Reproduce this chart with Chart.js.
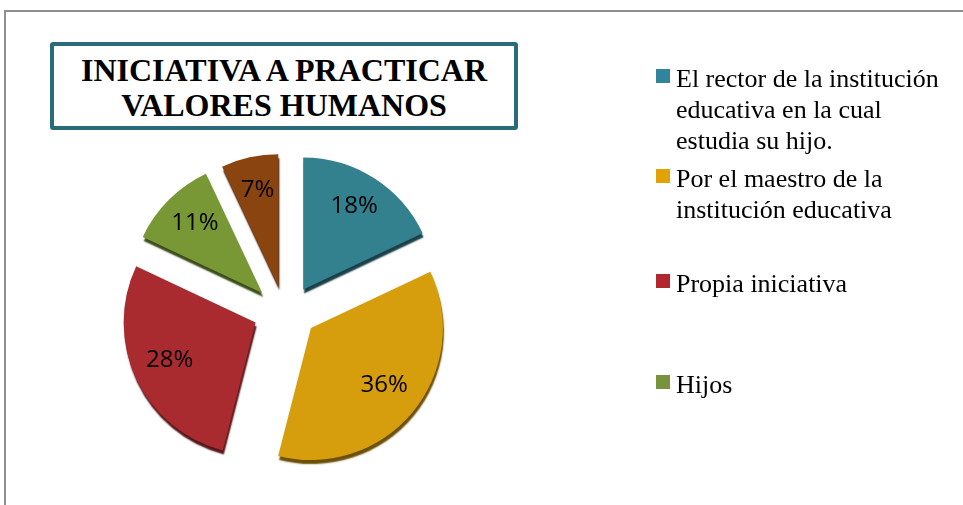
<!DOCTYPE html>
<html lang="es">
<head>
<meta charset="utf-8">
<title>Iniciativa a practicar valores humanos</title>
<script src="https://cdn.jsdelivr.net/npm/chart.js@4/dist/chart.umd.min.js"></script>
<style>
    html, body { margin: 0; padding: 0; background: #fff; }
    body { width: 963px; height: 505px; position: relative; overflow: hidden; }
    #marco {
        position: absolute; left: 4px; top: 10px; width: 1000px; height: 600px;
        border-left: 2px solid #8f8f8f; border-top: 2px solid #8f8f8f;
    }
    #grafico { position: absolute; left: 0; top: 0; }
    #titulo {
        position: absolute; left: 50px; top: 42px; width: 460px; height: 73px;
        border: 4px solid #2a6b7a; border-radius: 3px; padding-top: 7px;
        font: bold 32px/35px "Liberation Serif", "Times New Roman", serif;
        text-align: center; color: #000; background: #fff;
    }
    #leyenda { position: absolute; left: 0; top: 0; }
    .item {
        position: absolute; left: 676px; width: 278px;
        font: 26px/31px "Liberation Serif", "Times New Roman", serif; color: #000;
    }
    .item span {
        position: absolute; left: -20px; top: 6px; width: 14px; height: 14px;
    }
</style>
</head>
<body>
<div id="marco"></div>
<canvas id="grafico" width="963" height="505"></canvas>
<div id="titulo">INICIATIVA A PRACTICAR<br>VALORES HUMANOS</div>
<div id="leyenda"></div>

<script>
// datos
const categorias = [
    'El rector de la institución educativa en la cual estudia su hijo.',
    'Por el maestro de la institución educativa',
    'Propia iniciativa',
    'Hijos',
    'Otros'
];
const porcentajes = [18, 36, 28, 11, 7];
const enLeyenda = [true, true, true, true, false];

// estilos
const coloresPorcion = ['#33808f', '#d69e0c', '#a92b30', '#789836', '#8a4410'];
const coloresLeyenda = ['#31849b', '#e2a200', '#b1272e', '#77933c', '#8a4410'];
const leyendaTop = [63, 163, 268, 369];   // top de cada entrada
const SEP_X = 33;   // separacion de las porciones
const SEP_Y = 26;

function oscurecer(hex, f) {
    const n = parseInt(hex.slice(1), 16);
    const r = Math.round(((n >> 16) & 255) * f);
    const g = Math.round(((n >> 8) & 255) * f);
    const b = Math.round((n & 255) * f);
    return `rgb(${r},${g},${b})`;
}

// porciones separadas con un borde oscuro abajo (efecto 3d)
const Arco = Chart.registry.getElement('arc');
const dibujarArco = Arco.prototype.draw;
Arco.prototype.draw = function (ctx) {
    const medio = (this.startAngle + this.endAngle) / 2;
    ctx.save();
    ctx.translate(Math.cos(medio) * SEP_X, Math.sin(medio) * SEP_Y);
    ctx.shadowColor = oscurecer(this.options.backgroundColor, 0.5);
    ctx.shadowOffsetX = 1;
    ctx.shadowOffsetY = 4;
    ctx.shadowBlur = 1.5;
    dibujarArco.call(this, ctx);
    ctx.restore();
};

//etiquetas de porcentaje dentro de cada porcion//
const etiquetas = {
    id: 'etiquetas',
    afterDatasetsDraw(chart) {
        const ctx = chart.ctx;
        const meta = chart.getDatasetMeta(0);
        ctx.save();
        ctx.font = '24px "Open Sans", sans-serif';
        ctx.fillStyle = '#000';
        ctx.textAlign = 'center';
        ctx.textBaseline = 'middle';
        meta.data.forEach((arc, i) => {
            const p = arc.getProps(['x', 'y', 'startAngle', 'endAngle', 'outerRadius'], true);
            const medio = (p.startAngle + p.endAngle) / 2;
            const d = p.outerRadius * 0.72;
            const x = p.x + Math.cos(medio) * (SEP_X + d);
            const y = p.y + Math.sin(medio) * (SEP_Y + d) - 3;
            ctx.fillText(porcentajes[i] + '%', x, y);
        });
        ctx.restore();
    }
};

const ctx = document.getElementById('grafico').getContext('2d');
const grafico = new Chart(ctx, {
    type: 'pie',
    data: {
        labels: categorias,
        datasets: [{
            data: porcentajes,
            backgroundColor: coloresPorcion,
            borderWidth: 0
        }]
    },
    options: {
        responsive: false,
        animation: false,
        devicePixelRatio: 1,
        radius: 132,
        layout: { padding: { left: 100, right: 492, top: 170, bottom: 52 } },
        plugins: {
            legend: { display: false },
            tooltip: { enabled: false }
        }
    },
    plugins: [etiquetas]
});

// leyenda en html (solo las categorias visibles)
const leyenda = document.getElementById('leyenda');
let k = 0;
categorias.forEach((nombre, i) => {
    if (!enLeyenda[i]) return;
    const item = document.createElement('div');
    item.className = 'item';
    item.style.top = leyendaTop[k] + 'px';
    const cuadro = document.createElement('span');
    cuadro.style.background = coloresLeyenda[i];
    item.appendChild(cuadro);
    item.appendChild(document.createTextNode(nombre));
    leyenda.appendChild(item);
    k++;
});
</script>
</body>
</html>
